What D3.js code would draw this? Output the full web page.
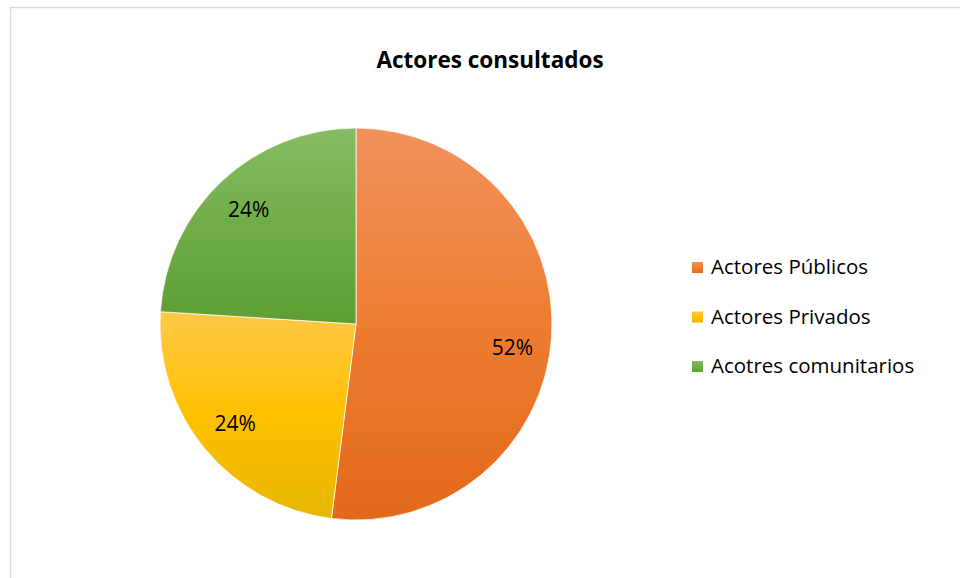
<!DOCTYPE html>
<html>
<head>
<meta charset="utf-8">
<script src="https://cdn.jsdelivr.net/npm/d3@7"></script>
<style>
  body { margin: 0; background: #fff; }
  svg { display: block; font-family: "Open Sans", sans-serif; }
</style>
</head>
<body>
<script>
// chart values
const categories = ["Actores Públicos", "Actores Privados", "Acotres comunitarios"];
const values = [13, 6, 6];
const baseColors = ["#ED7D31", "#FFC000", "#70AD47"];
const lightColors = ["#F2915C", "#FFC845", "#86BC64"];
const darkColors = ["#E2691A", "#E6B600", "#5E9E35"];

const width = 960, height = 578;
const cx = 356, cy = 324, radius = 196;

const svg = d3.select("body").append("svg")
  .attr("width", width)
  .attr("height", height);

// chart frame
svg.append("rect")
  .attr("x", 10.5).attr("y", 7.5)
  .attr("width", 960).attr("height", 600)
  .attr("fill", "#fff")
  .attr("stroke", "#d9d9d9")
  .attr("stroke-width", 1.5);

svg.append("text")
  .attr("x", 490).attr("y", 68)
  .attr("text-anchor", "middle")
  .attr("font-size", 22.5)
  .attr("font-weight", "bold")
  .attr("fill", "#000")
  .text("Actores consultados");

const defs = svg.append("defs");
categories.forEach((c, i) => {
  const g = defs.append("linearGradient")
    .attr("id", "grad" + i)
    .attr("x1", 0).attr("y1", 0).attr("x2", 0).attr("y2", 1);
  g.append("stop").attr("offset", "0%").attr("stop-color", lightColors[i]);
  g.append("stop").attr("offset", "50%").attr("stop-color", baseColors[i]);
  g.append("stop").attr("offset", "100%").attr("stop-color", darkColors[i]);
});

const pie = d3.pie().sort(null).value(d => d);
const arcs = pie(values);
const total = d3.sum(values);
const arc = d3.arc().innerRadius(0).outerRadius(radius);
const labelArc = d3.arc().innerRadius(radius * 0.8).outerRadius(radius * 0.8);

const g = svg.append("g").attr("transform", `translate(${cx},${cy})`);

g.selectAll("path")
  .data(arcs)
  .enter()
  .append("path")
  .attr("d", arc)
  .attr("fill", (d, i) => `url(#grad${i})`)
  .attr("stroke", "#fff")
  .attr("stroke-width", 0.75);

g.selectAll(".label")
  .data(arcs)
  .enter()
  .append("text")
  .attr("class", "label")
  .attr("transform", d => {
    const [x, y] = labelArc.centroid(d);
    // the big slice label sits a bit lower, as in the original
    return `translate(${x},${d.index === 0 ? y + 14 : y})`;
  })
  .attr("text-anchor", "middle")
  .attr("dy", ".35em")
  .attr("font-size", 21)
  .attr("fill", "#000")
  .text(d => Math.round(d.data / total * 100) + "%");

const legend = svg.append("g").attr("transform", "translate(692,267)");
const rows = legend.selectAll("g")
  .data(categories)
  .enter()
  .append("g")
  .attr("transform", (d, i) => `translate(0,${i * 49.5})`);

rows.append("rect")
  .attr("x", 0).attr("y", -5)
  .attr("width", 11).attr("height", 11)
  .attr("fill", (d, i) => `url(#grad${i})`);

rows.append("text")
  .attr("x", 19)
  .attr("dy", ".35em")
  .attr("font-size", 20.5)
  .attr("fill", "#000")
  .text(d => d);
</script>
</body>
</html>
